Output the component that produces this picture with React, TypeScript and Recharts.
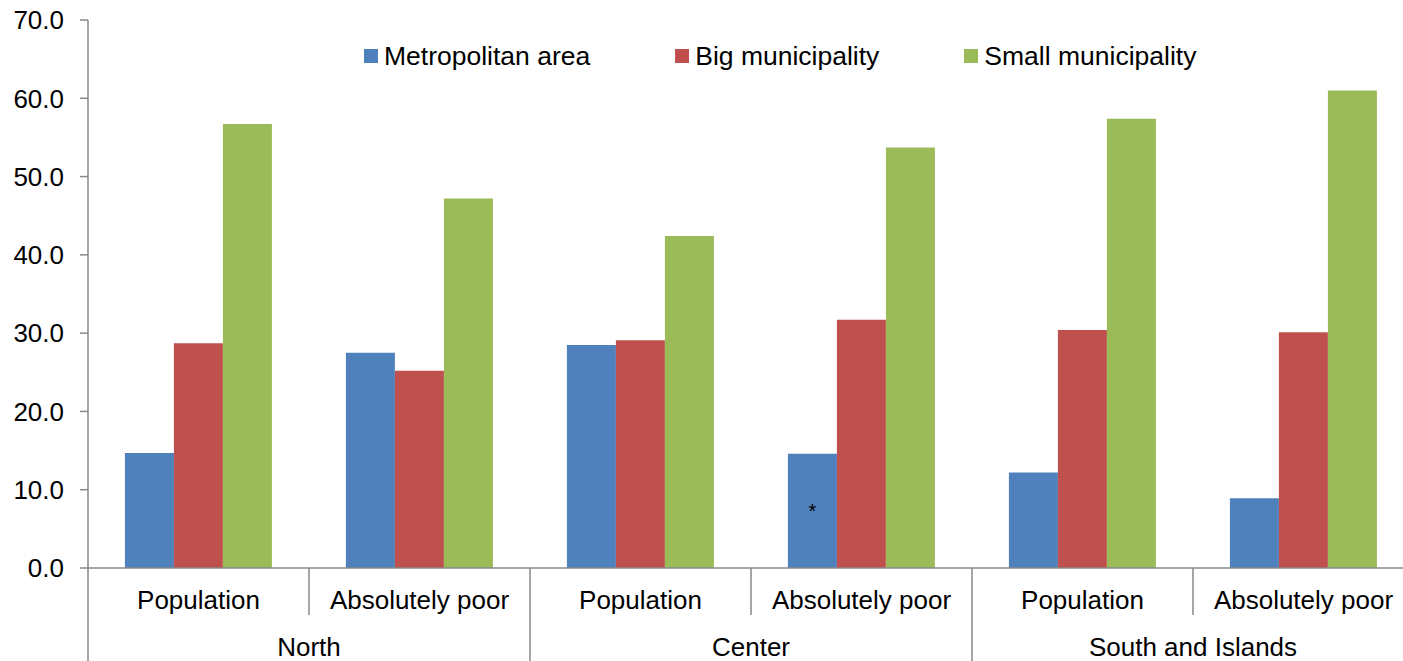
import React from "react";
import { BarChart, Bar, XAxis, YAxis, LabelList } from "recharts";

const categories = ["Population", "Absolutely poor", "Population", "Absolutely poor", "Population", "Absolutely poor"];
const regions = ["North", "Center", "South and Islands"];
const metropolitan = [14.7, 27.5, 28.5, 14.6, 12.2, 8.9];
const bigMunicipality = [28.7, 25.2, 29.1, 31.7, 30.4, 30.1];
const smallMunicipality = [56.7, 47.2, 42.4, 53.7, 57.4, 61.0];
const notes = ["", "", "", "*", "", ""];
const yTicks = [0, 10, 20, 30, 40, 50, 60, 70];

const seriesNames = ["Metropolitan area", "Big municipality", "Small municipality"];
const seriesColors = ["#4F81BD", "#C0504D", "#9BBB59"];

const data = categories.map((c, i) => ({
  sub: c,
  region: regions[Math.floor(i / 2)],
  metro: metropolitan[i],
  big: bigMunicipality[i],
  small: smallMunicipality[i],
  note: notes[i],
}));

const W = 1424;
const H = 661;
const M = { top: 20, right: 10, left: 0, bottom: 0 };
const Y_AXIS_W = 88;
const X_AXIS_H = 93;
const PLOT_BOTTOM = H - M.bottom - X_AXIS_H;
const BAND = (W - M.left - M.right - Y_AXIS_W) / categories.length;
const FONT = "'Liberation Sans', Arial, sans-serif";
const AXIS_COLOR = "#898989";

const XTick = (props: any) => {
  const { x, payload, index } = props;
  const left = x - BAND / 2;
  const isRegionStart = index % 2 === 0;
  return (
    <g>
      <line x1={left} x2={left} y1={PLOT_BOTTOM} y2={isRegionStart ? H : PLOT_BOTTOM + 47} stroke={AXIS_COLOR} strokeWidth={1.5} />
      {index === categories.length - 1 && (
        <line x1={x + BAND / 2} x2={x + BAND / 2} y1={PLOT_BOTTOM} y2={H} stroke={AXIS_COLOR} strokeWidth={1.5} />
      )}
      <text x={x} y={PLOT_BOTTOM + 41} textAnchor="middle" fontSize={26} fontFamily={FONT} fill="#000">
        {payload.value}
      </text>
      {index % 2 === 1 && (
        <text x={left} y={PLOT_BOTTOM + 88} textAnchor="middle" fontSize={26} fontFamily={FONT} fill="#000">
          {regions[(index - 1) / 2]}
        </text>
      )}
    </g>
  );
};

export default function App() {
  return (
    <div style={{ position: "absolute", left: 0, top: 0, width: 1403, height: 661, overflow: "hidden", background: "#fff" }}>
      <BarChart width={W} height={H} data={data} margin={M} barCategoryGap="16.7%" barGap={0}>
        <YAxis
          domain={[0, 70]}
          ticks={yTicks}
          width={Y_AXIS_W}
          tickFormatter={(v: number) => v.toFixed(1)}
          tick={{ fontSize: 26, fontFamily: FONT, fill: "#000" }}
          tickSize={8}
          tickMargin={16}
          stroke={AXIS_COLOR}
          axisLine={{ stroke: AXIS_COLOR, strokeWidth: 1.5 }}
          tickLine={{ stroke: AXIS_COLOR, strokeWidth: 1.5 }}
          interval={0}
        />
        <XAxis
          dataKey="sub"
          height={X_AXIS_H}
          interval={0}
          tickLine={false}
          axisLine={{ stroke: AXIS_COLOR, strokeWidth: 1.5 }}
          tick={<XTick />}
        />
        <Bar dataKey="metro" name={seriesNames[0]} fill={seriesColors[0]} isAnimationActive={false}>
          <LabelList dataKey="note" position="center" fill="#000" fontSize={20} fontFamily={FONT} />
        </Bar>
        <Bar dataKey="big" name={seriesNames[1]} fill={seriesColors[1]} isAnimationActive={false} />
        <Bar dataKey="small" name={seriesNames[2]} fill={seriesColors[2]} isAnimationActive={false} />
      </BarChart>
      <div style={{ position: "absolute", left: 364, top: 41, height: 30, display: "flex", alignItems: "center", fontFamily: FONT, fontSize: 26.5, color: "#000" }}>
        {seriesNames.map((n, i) => (
          <div key={n} style={{ display: "flex", alignItems: "center", marginRight: 85 }}>
            <span style={{ display: "inline-block", width: 14, height: 14, background: seriesColors[i], marginRight: 6 }} />
            <span>{n}</span>
          </div>
        ))}
      </div>
    </div>
  );
}
